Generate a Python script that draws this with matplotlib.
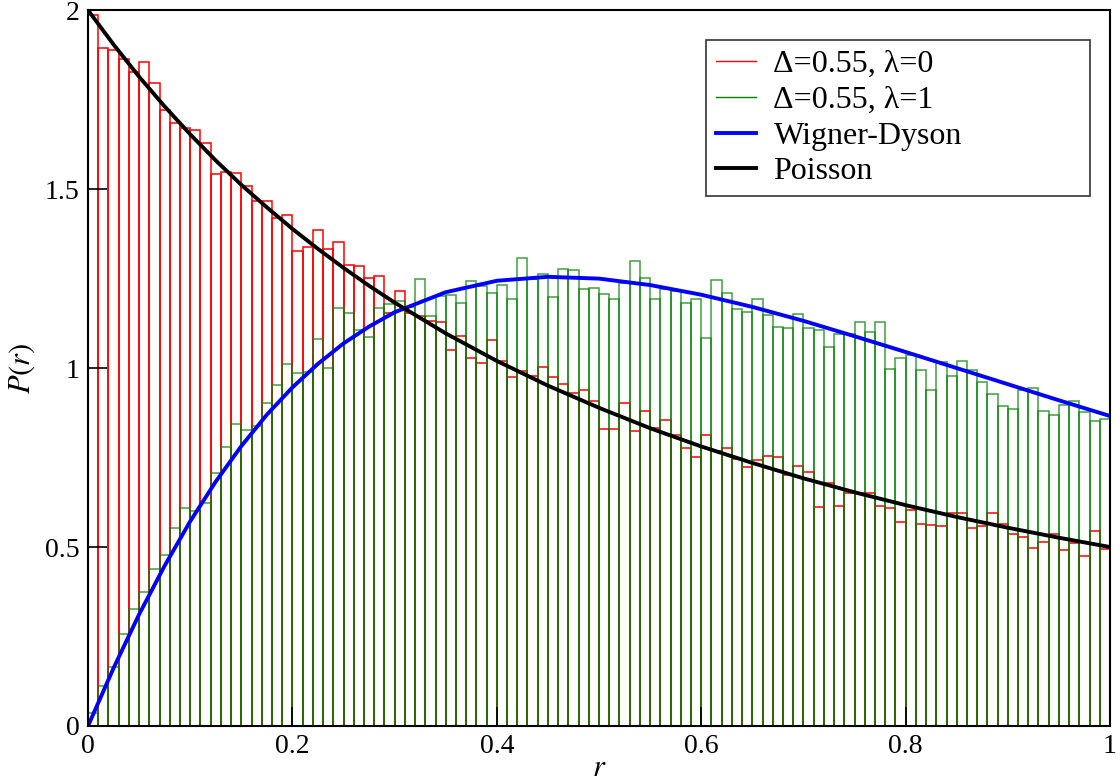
import numpy as np
import matplotlib
matplotlib.use('Agg')
from matplotlib import pyplot as plt
from matplotlib.lines import Line2D

# histogram of the ratio r, 100 bins of width 0.01 on [0, 1]
bin_width = 0.01
bin_left = np.arange(100) * bin_width

# Delta=0.55, lambda=0 (red)
p_lam0 = [1.986, 1.893, 1.888, 1.865, 1.826, 1.856, 1.797, 1.722, 1.685, 1.672,
          1.665, 1.628, 1.541, 1.547, 1.544, 1.509, 1.467, 1.467, 1.418, 1.429,
          1.328, 1.339, 1.385, 1.333, 1.353, 1.288, 1.286, 1.253, 1.258, 1.154,
          1.215, 1.155, 1.145, 1.132, 1.128, 1.050, 1.090, 1.029, 1.015, 1.078,
          1.020, 0.974, 0.992, 0.978, 1.004, 0.976, 0.955, 0.931, 0.938, 0.909,
          0.830, 0.831, 0.903, 0.825, 0.881, 0.833, 0.855, 0.813, 0.777, 0.751,
          0.812, 0.767, 0.777, 0.745, 0.723, 0.743, 0.754, 0.751, 0.700, 0.726,
          0.711, 0.613, 0.680, 0.615, 0.650, 0.650, 0.652, 0.615, 0.610, 0.571,
          0.603, 0.563, 0.561, 0.559, 0.594, 0.596, 0.552, 0.559, 0.594, 0.565,
          0.537, 0.528, 0.497, 0.513, 0.536, 0.492, 0.512, 0.474, 0.545, 0.494]

# Delta=0.55, lambda=1 (green)
p_lam1 = [0.035, 0.112, 0.164, 0.257, 0.328, 0.374, 0.439, 0.477, 0.553, 0.609,
          0.601, 0.622, 0.706, 0.779, 0.844, 0.828, 0.839, 0.903, 0.954, 1.012,
          0.985, 0.990, 1.080, 1.001, 1.169, 1.153, 1.106, 1.087, 1.168, 1.179,
          1.188, 1.171, 1.248, 1.145, 1.202, 1.203, 1.181, 1.242, 1.229, 1.211,
          1.233, 1.193, 1.307, 1.250, 1.264, 1.199, 1.278, 1.275, 1.221, 1.223,
          1.206, 1.193, 1.237, 1.300, 1.252, 1.192, 1.222, 1.216, 1.183, 1.193,
          1.085, 1.247, 1.211, 1.165, 1.158, 1.193, 1.149, 1.115, 1.111, 1.151,
          1.113, 1.106, 1.058, 1.094, 1.095, 1.128, 1.100, 1.130, 0.997, 1.029,
          1.036, 0.994, 0.939, 1.018, 0.978, 1.020, 0.996, 0.962, 0.927, 0.895,
          0.885, 0.940, 0.945, 0.881, 0.869, 0.897, 0.908, 0.878, 0.852, 0.858]

# reference curves
r_curve = [0, 0.025, 0.05, 0.075, 0.1, 0.125, 0.15, 0.175, 0.2, 0.225, 0.25,
           0.275, 0.3, 0.35, 0.4, 0.45, 0.5, 0.55, 0.6, 0.65, 0.7, 0.75, 0.8,
           0.85, 0.9, 0.95, 1.0]
p_poisson = [2.000, 1.904, 1.814, 1.731, 1.653, 1.580, 1.512, 1.449, 1.389,
             1.333, 1.280, 1.230, 1.183, 1.097, 1.020, 0.951, 0.889, 0.832,
             0.781, 0.735, 0.692, 0.653, 0.617, 0.584, 0.554, 0.526, 0.500]
p_wigner = [0.000, 0.162, 0.312, 0.448, 0.572, 0.683, 0.782, 0.870, 0.946,
            1.012, 1.069, 1.116, 1.156, 1.212, 1.244, 1.255, 1.250, 1.232,
            1.205, 1.171, 1.132, 1.089, 1.045, 1.000, 0.955, 0.910, 0.866]

labels = ['\u0394=0.55, \u03bb=0', '\u0394=0.55, \u03bb=1', 'Wigner-Dyson', 'Poisson']

plt.rcParams['font.family'] = ['Liberation Serif', 'DejaVu Serif']
plt.rcParams['mathtext.fontset'] = 'stix'

fig = plt.figure(figsize=(11.2, 7.84), dpi=100)
ax = fig.add_axes([0.0786, 0.074, 0.9125, 0.913])

ax.bar(bin_left, p_lam0, width=bin_width, align='edge', fill=False,
       edgecolor='#ff0000', linewidth=1.1)
ax.bar(bin_left, p_lam1, width=bin_width, align='edge', fill=False,
       edgecolor='#008000', linewidth=1.1, alpha=0.75)
ax.plot(r_curve, p_wigner, color='#0000ff', linewidth=2.8, solid_capstyle='round')
ax.plot(r_curve, p_poisson, color='black', linewidth=2.8, solid_capstyle='round')

ax.set_xlim(0, 1)
ax.set_ylim(0, 2)
ax.set_xticks([0, 0.2, 0.4, 0.6, 0.8, 1.0])
ax.set_xticklabels(['0', '0.2', '0.4', '0.6', '0.8', '1'])
ax.set_yticks([0, 0.5, 1.0, 1.5, 2.0])
ax.set_yticklabels(['0', '0.5', '1', '1.5', '2'])
ax.tick_params(direction='in', length=14, width=1.2, labelsize=20, pad=6)
for s in ax.spines.values():
    s.set_linewidth(1.5)

ax.set_xlabel('$r$', fontsize=22, labelpad=-4)
ax.set_ylabel('$P(r)$', fontsize=22, labelpad=6)

handles = [Line2D([], [], color='#ff0000', linewidth=1.0),
           Line2D([], [], color='#008000', linewidth=1.0),
           Line2D([], [], color='#0000ff', linewidth=2.8),
           Line2D([], [], color='black', linewidth=2.8)]
leg = ax.legend(handles, labels, loc='upper left', mode='expand',
                bbox_to_anchor=(0.605, 0.749, 0.375, 0.209),
                fontsize=23, frameon=True, fancybox=False, handlelength=1.25,
                handletextpad=0.55, labelspacing=0.2, borderpad=0.3,
                borderaxespad=0)
leg.get_frame().set_edgecolor('black')
leg.get_frame().set_linewidth(1.2)

fig.savefig('out.png', dpi=100)
